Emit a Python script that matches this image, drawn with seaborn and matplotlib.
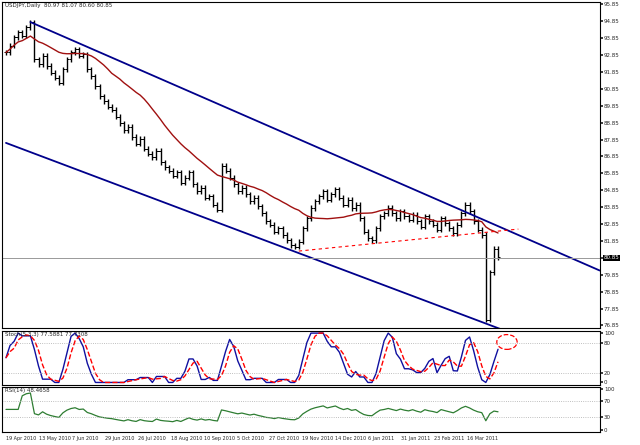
import numpy as np
import pandas as pd
import matplotlib
matplotlib.use("Agg")
import matplotlib.pyplot as plt
import seaborn as sns
from matplotlib.patches import Ellipse

sns.set_theme(style="white")
plt.rcParams['font.family'] = ['DejaVu Sans']

closes = [93.0,93.4,93.9,94.2,94.0,94.5,94.8,92.6,92.3,92.8,
          92.2,91.8,91.5,91.2,92.0,92.6,93.0,93.2,92.8,92.9,
          92.0,91.6,91.0,90.4,90.1,89.8,89.6,89.2,88.8,88.4,
          88.6,88.0,87.6,87.9,87.3,87.0,86.8,87.2,86.5,86.2,
          86.0,85.7,85.9,85.3,85.6,85.9,85.2,84.8,85.0,84.4,
          84.5,84.0,83.7,86.3,86.0,85.6,85.2,84.8,85.0,84.6,
          84.2,84.4,83.9,83.5,83.0,82.8,82.4,82.6,82.2,81.9,
          81.6,81.5,81.8,82.6,83.2,83.8,84.2,84.5,84.8,84.3,
          84.6,84.9,84.4,84.0,84.3,83.8,84.0,83.2,82.4,82.0,
          81.9,82.6,83.3,83.5,83.8,83.5,83.2,83.6,83.3,83.1,
          83.4,83.0,82.7,83.3,83.0,82.8,82.5,83.2,82.9,82.6,
          82.3,82.8,83.5,84.0,83.6,83.0,82.5,82.2,77.2,80.0,
          81.4,80.9]
date_labels = ["19 Apr 2010","13 May 2010","7 Jun 2010","29 Jun 2010","26 Jul 2010",
               "18 Aug 2010","10 Sep 2010","5 Oct 2010","27 Oct 2010","19 Nov 2010",
               "14 Dec 2010","6 Jan 2011","31 Jan 2011","23 Feb 2011","16 Mar 2011"]
upper_channel = [(6, 94.8), (146, 80.1)]
lower_channel = [(0, 87.65), (122, 76.6)]
support_line = [(72, 81.25), (126, 82.55)]
current_price = 80.85
price_ticks = [95.85 - k for k in range(20)]

c = pd.Series(closes)
n = len(c)
idx = np.arange(n)
opens = c.shift(1).fillna(c.iloc[0])
ma = c.rolling(20, min_periods=1).mean()
hh = c.rolling(5, min_periods=1).max(); ll = c.rolling(5, min_periods=1).min()
k_raw = 100 * (c - ll) / (hh - ll).replace(0, np.nan)
k = k_raw.fillna(50).rolling(3, min_periods=1).mean()
d = k.rolling(3, min_periods=1).mean()
delta = c.diff().fillna(0)
up = delta.clip(lower=0).ewm(alpha=1/14).mean(); dn = (-delta.clip(upper=0)).ewm(alpha=1/14).mean()
rsi = (100 - 100 / (1 + up / dn.replace(0, np.nan))).fillna(50)

fig = plt.figure(figsize=(6.4, 4.45), dpi=100)
XL = (-1, 146)
ax = fig.add_axes([0.003, 0.263, 0.934, 0.733])
ax2 = fig.add_axes([0.003, 0.135, 0.934, 0.122])
ax3 = fig.add_axes([0.003, 0.03, 0.934, 0.1])

lo = np.minimum(opens, c); hi = np.maximum(opens, c)
ax.vlines(idx, lo - 0.15, hi + 0.15, color="black", lw=1.0)
ax.hlines(opens, idx - 0.6, idx, color="black", lw=0.7)
ax.hlines(c, idx, idx + 0.6, color="black", lw=0.7)
sns.lineplot(x=idx, y=ma.values, ax=ax, color="#a01010", lw=1)
for ln in (upper_channel, lower_channel):
    ax.plot([ln[0][0], ln[1][0]], [ln[0][1], ln[1][1]], color="#00008b", lw=1.3)
ax.plot([support_line[0][0], support_line[1][0]], [support_line[0][1], support_line[1][1]],
        color="red", lw=0.8, ls=(0, (3, 3)))
ax.axhline(current_price, color="#999999", lw=0.7)
ax.set_ylim(76.7, 96.0)
ax.set_xlim(*XL)
ax.yaxis.tick_right()
ax.set_yticks(price_ticks)
ax.set_yticklabels([f"{p:.2f}" for p in price_ticks], fontsize=4)
ax.text(XL[1] + 1, current_price, f"{current_price:.2f}", fontsize=4,
        color="white", va="center", bbox=dict(fc="black", ec="none", pad=0.5))
ax.set_xticks([])
ax.text(0.005, 0.995, "USDJPY,Daily  80.97 81.07 80.60 80.85", transform=ax.transAxes,
        fontsize=4, va="top")

sns.lineplot(x=idx, y=k.values, ax=ax2, color="#1010a0", lw=1)
sns.lineplot(x=idx, y=d.values, ax=ax2, color="red", lw=1, linestyle="--")
for lv in (80, 20):
    ax2.axhline(lv, color="#aaaaaa", lw=0.6, ls=":")
ax2.add_patch(Ellipse((n + 1.2, 82), 5, 30, fill=False, ec="red", lw=0.9, ls="--"))
ax2.set_ylim(-5, 105); ax2.set_xlim(*XL)
ax2.yaxis.tick_right(); ax2.set_yticks([100, 80, 20, 0])
ax2.set_yticklabels(["100", "80", "20", "0"], fontsize=4)
ax2.set_xticks([])
ax2.text(0.005, 0.97, "Stoch(5,3,3) 77.5881 77.7308", transform=ax2.transAxes, fontsize=4, va="top")

sns.lineplot(x=idx, y=rsi.values, ax=ax3, color="#2e7d32", lw=0.9)
for lv in (70, 30):
    ax3.axhline(lv, color="#aaaaaa", lw=0.6, ls=":")
ax3.set_ylim(-5, 105); ax3.set_xlim(*XL)
ax3.yaxis.tick_right(); ax3.set_yticks([100, 70, 30, 0])
ax3.set_yticklabels(["100", "70", "30", "0"], fontsize=4)
ax3.text(0.005, 0.97, "RSI(14) 48.4658", transform=ax3.transAxes, fontsize=4, va="top")
ax3.set_xticks([i * 8.1 for i in range(len(date_labels))])
ax3.set_xticklabels(date_labels, fontsize=3.5, ha="left")
ax3.tick_params(axis="x", length=2, pad=1)

for a in (ax, ax2, ax3):
    for s in a.spines.values():
        s.set_color("black"); s.set_linewidth(0.8)
    a.tick_params(axis="y", length=2, pad=1)

fig.savefig("out.png", dpi=100)
